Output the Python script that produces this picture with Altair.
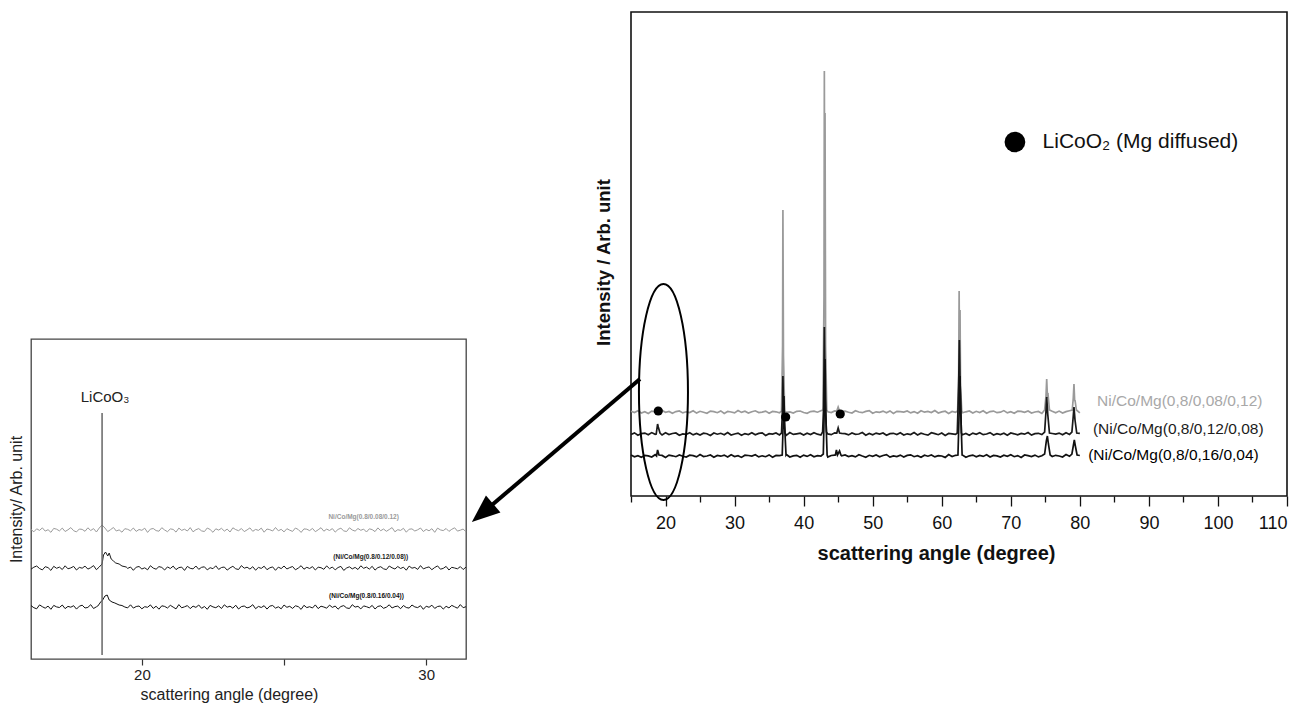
import altair as alt
import pandas as pd

FONT = "Liberation Sans"

# ---------------- main XRD pattern (right) ----------------
main_labels = ["Ni/Co/Mg(0,8/0,08/0,12)", "(Ni/Co/Mg(0,8/0,12/0,08)", "(Ni/Co/Mg(0,8/0,16/0,04)"]
main_colors = ["#a8a8a8", "#1c1c1c", "#000000"]
main_base = [84, 62, 40]
main_start = 15.0
main_step = 0.5

main_noise_gray = [0.8,-0.6,1.2,-1.0,0.3,-1.4,0.9,0.1,-0.8,1.5,-0.3,0.6,-1.2,0.4,1.0,-0.9,0.2,-0.5,1.3,-1.1,
 0.7,-0.2,-1.3,0.9,0.4,-0.7,1.1,-1.5,0.5,0.0,-0.9,1.4,-0.4,0.8,-1.0,0.3,1.2,-0.6,-0.1,0.9,
 -1.2,0.6,0.2,-0.8,1.5,-0.4,0.1,-1.1,0.7,1.0,-0.5,-1.3,0.4,0.9,-0.2,1.2,-0.9,0.3,-0.6,1.1,
 -1.4,0.5,0.8,-0.3,-1.0,1.3,0.0,-0.7,0.6,1.4,-1.2,0.2,-0.4,0.9,-0.8,1.1,-1.5,0.7,0.3,-0.1,
 1.0,-0.9,0.4,-1.3,1.2,-0.2,0.6,-0.6,1.5,-1.0,0.1,0.8,-1.4,0.5,-0.3,1.3,-0.8,0.2,1.0,-1.1,
 0.7,-0.5,1.2,-1.2,0.4,0.9,-0.7,-0.2,1.4,-0.9,0.3,-1.3,0.8,0.6,-0.4,1.1,-1.0,0.0,0.5,-1.5,
 1.2,-0.3,0.7,-0.8,0.9,-1.1,0.4,1.3,-0.6,0.2,-0.9]
main_noise_mid = [-0.5,1.1,-1.2,0.4,0.9,-0.8,1.4,-0.3,0.2,-1.0,1.2,-0.6,0.5,1.0,-1.3,0.1,-0.4,1.3,-0.9,0.6,
 -1.1,0.8,0.3,-1.4,1.0,-0.2,0.7,-0.7,1.5,-1.0,0.0,0.9,-1.2,0.4,-0.5,1.2,-0.8,0.6,1.1,-1.5,
 0.3,-0.1,1.0,-0.9,0.5,-1.3,1.4,-0.4,0.2,0.8,-1.1,0.7,-0.6,1.3,-0.2,-1.0,0.9,0.1,-0.7,1.2,
 -1.4,0.6,0.4,-0.9,1.1,-0.3,0.0,1.5,-1.2,0.5,-0.8,0.9,-0.1,1.0,-1.3,0.3,0.7,-0.5,1.2,-1.0,
 0.2,-0.6,1.4,-0.9,0.8,-0.2,-1.1,1.3,0.4,-0.7,1.0,-1.5,0.6,0.1,-0.4,1.1,-0.8,0.5,-1.2,0.9,
 -0.3,1.2,-0.7,0.0,1.4,-1.0,0.3,-0.5,0.8,-1.3,1.0,0.2,-0.9,0.6,-0.2,1.5,-1.1,0.4,0.7,-0.6,
 1.1,-1.4,0.5,-0.1,0.9,-0.8,1.3,-0.4,0.2,-1.0,0.6]
main_noise_bot = [1.0,-0.8,0.3,-1.2,0.7,0.1,-1.0,1.3,-0.4,0.6,-1.5,0.9,0.2,-0.7,1.1,-0.3,-1.1,0.8,0.4,-0.9,
 1.4,-0.5,0.0,1.0,-1.3,0.6,-0.2,0.9,-1.0,1.2,-0.6,0.3,-1.4,0.8,0.5,-0.1,1.3,-0.9,0.2,-0.7,
 1.1,-1.2,0.6,0.4,-0.5,1.5,-1.0,0.1,0.7,-1.3,0.9,-0.4,1.2,-0.8,0.3,-0.2,1.0,-1.1,0.5,0.8,
 -1.4,0.2,1.1,-0.6,0.4,-0.9,1.3,0.0,-1.2,0.7,-0.3,1.0,-0.8,0.5,1.4,-1.1,0.1,-0.5,0.9,-1.0,
 0.6,1.2,-0.7,0.3,-1.3,0.8,-0.2,1.1,-0.9,0.4,0.0,-1.4,1.5,-0.6,0.7,-0.1,1.0,-1.2,0.2,0.9,
 -0.8,0.5,-0.4,1.3,-1.0,0.6,0.1,-1.1,0.8,-0.3,1.2,-0.7,0.4,-1.5,1.0,0.3,-0.6,0.9,-0.9,0.2,
 -1.2,1.1,-0.5,0.7,0.0,-1.0,1.4,-0.3,0.6,-0.8,0.5]

main_peaks_gray = [
    [(18.7, 85), (18.9, 88), (19.1, 85)],
    [(36.8, 85), (36.95, 150), (37.0, 286), (37.08, 140), (37.25, 85)],
    [(42.8, 86), (42.95, 200), (43.0, 425), (43.05, 260), (43.1, 383), (43.18, 150), (43.35, 86)],
    [(44.8, 85), (45.0, 89), (45.2, 85)],
    [(62.3, 85), (62.45, 120), (62.52, 205), (62.58, 130), (62.65, 186), (62.72, 110), (62.9, 85)],
    [(74.9, 86), (75.1, 100), (75.2, 117), (75.3, 100), (75.4, 101), (75.6, 86)],
    [(78.9, 86), (79.05, 98), (79.15, 112), (79.25, 95), (79.3, 96), (79.5, 86)],
]
main_peaks_mid = [
    [(18.65, 62), (18.85, 72), (18.95, 69), (19.2, 63)],
    [(36.8, 63), (36.95, 90), (37.0, 120), (37.1, 85), (37.3, 63)],
    [(42.75, 64), (42.9, 90), (43.0, 169), (43.1, 100), (43.3, 64)],
    [(44.8, 63), (45.0, 68), (45.2, 63)],
    [(62.25, 63), (62.45, 110), (62.55, 156), (62.65, 115), (62.85, 63)],
    [(74.9, 64), (75.1, 85), (75.2, 99), (75.35, 82), (75.6, 63)],
    [(78.85, 64), (79.05, 80), (79.15, 89), (79.3, 76), (79.55, 63)],
]
main_peaks_bot = [
    [(18.7, 40), (18.85, 46), (19.05, 41)],
    [(36.9, 41), (37.05, 75), (37.15, 100), (37.25, 70), (37.45, 41)],
    [(42.85, 42), (43.0, 90), (43.1, 137), (43.2, 85), (43.4, 41)],
    [(44.6, 41), (44.75, 46), (44.9, 41), (45.2, 45), (45.4, 41)],
    [(62.35, 41), (62.55, 90), (62.65, 120), (62.75, 85), (62.95, 41)],
    [(74.9, 42), (75.15, 55), (75.3, 60), (75.45, 52), (75.7, 41)],
    [(78.85, 42), (79.1, 52), (79.2, 56), (79.35, 50), (79.6, 41)],
]
main_label_angle = [82.5, 81.9, 81.2]
main_label_value = [95, 67, 41]

marker_angle = [18.95, 37.4, 45.3]
marker_value = [85, 79, 82]

legend_dot_angle = [70.6]
legend_text_angle = [74.6]
legend_value = [354]
legend_text = ["LiCoO\u2082 (Mg diffused)"]

ellipse_angle = [19.7]
ellipse_value = [104]
arrow_angle = [16.3, -6.5]
arrow_value = [117, -17]
arrowhead_angle = [-6.5]
arrowhead_value = [-17]

main_ticks = [15, 20, 25, 30, 35, 40, 45, 50, 55, 60, 65, 70, 75, 80, 85, 90, 95, 100, 105, 110]

# ---------------- inset (left) ----------------
inset_labels = ["Ni/Co/Mg(0.8/0.08/0.12)", "(Ni/Co/Mg(0.8/0.12/0.08))", "(Ni/Co/Mg(0.8/0.16/0.04))"]
inset_colors = ["#9a9a9a", "#1a1a1a", "#111111"]
inset_base = [129, 91, 52]
inset_start = 16.1
inset_step = 0.1

inset_noise_gray = [0.5,-1.8,1.2,-0.4,2.1,-1.1,0.3,-2.3,1.6,0.8,-0.9,1.9,-1.5,0.2,2.4,-0.7,-1.9,1.0,0.6,-1.3,
 2.2,-0.5,1.4,-2.0,0.9,-0.2,1.7,-1.6,0.4,2.5,-1.0,0.1,-2.2,1.3,0.7,-0.8,2.0,-1.4,0.5,-0.3,
 1.8,-2.4,0.9,1.5,-0.6,-1.2,2.3,0.0,-1.7,1.1,0.6,-2.1,1.9,-0.4,0.8,-1.0,2.4,-1.8,0.3,1.4,
 -0.9,-1.5,2.0,0.5,-2.3,1.2,-0.1,1.7,-1.1,0.9,-2.0,2.2,0.4,-0.7,1.5,-1.6,0.1,2.1,-1.3,0.6,
 -0.4,1.9,-2.2,1.0,0.3,-1.0,2.5,-0.8,0.7,-1.9,1.3,-0.2,-1.4,2.0,0.5,-2.4,1.1,0.8,-0.6,1.6,
 -1.7,0.2,2.3,-1.2,0.9,-0.5,1.4,-2.1,0.6,1.8,-0.9,-1.5,2.2,0.0,-1.1,1.5,-0.3,0.9,-2.0,1.2,
 0.4,-1.6,2.1,-0.7,1.0,-1.3,0.5,2.4,-1.8,0.3,-0.4,1.7,-2.2,0.8,1.1,-1.0,0.2,2.0,-1.5,0.6,
 -0.8,1.3,-2.3,1.9,0.1,-0.6,1.5,-1.4,0.7,2.2,-1.1,-0.2,1.0,-1.9]
inset_noise_mid = [-1.2,0.8,2.0,-0.5,-1.9,1.3,0.4,-2.4,1.7,-0.3,0.9,-1.5,2.2,-0.8,0.1,1.6,-2.0,0.6,-0.2,1.9,
 -1.1,0.3,2.4,-1.7,0.7,-0.6,1.2,-2.2,0.5,1.8,-0.9,0.0,-1.4,2.1,-0.4,1.0,-2.3,0.8,1.5,-1.0,
 0.2,-1.8,2.3,-0.1,-1.2,1.4,0.6,-2.0,1.1,-0.5,1.9,-1.6,0.4,0.9,-2.4,1.6,-0.3,-0.9,2.0,-1.3,
 0.7,1.2,-1.9,0.3,-0.7,2.2,-1.4,0.5,1.0,-2.1,0.1,1.7,-0.8,-1.5,2.4,-0.2,0.8,-1.1,1.3,-2.2,
 0.6,-0.4,1.8,-1.7,0.2,1.1,-2.3,0.9,-0.6,2.0,-1.0,0.4,1.5,-1.8,-0.1,2.3,-1.2,0.7,-0.5,1.4,
 -2.0,0.8,0.3,-1.3,2.1,-0.7,1.0,-1.9,0.5,1.6,-2.4,0.0,1.2,-0.9,0.6,-1.5,2.2,-0.3,0.9,-1.1,
 1.7,-2.1,0.4,1.3,-0.8,-1.6,2.0,0.2,-1.0,1.5,-0.5,0.8,-2.2,1.9,-0.2,0.6,-1.4,2.4,-0.9,0.3,
 1.1,-1.7,0.5,2.1,-1.2,-0.4,1.6,-2.0,0.7,0.0,-0.8,1.4,-1.5,0.9]
inset_noise_bot = [1.4,-0.7,-1.8,2.1,0.3,-1.2,0.9,-2.3,1.6,0.1,-0.5,2.0,-1.6,0.6,-0.2,1.3,-2.1,0.8,1.8,-1.0,
 -0.4,2.3,-1.5,0.2,1.1,-2.0,0.7,-0.6,1.9,-1.3,0.4,-2.4,1.5,0.0,-0.9,2.2,-1.1,0.5,1.0,-1.8,
 0.3,-0.3,2.1,-1.4,0.8,-2.2,1.2,0.6,-1.0,1.7,-0.1,-1.9,2.4,-0.8,0.2,1.4,-1.6,0.9,-0.4,2.0,
 -1.3,0.5,-2.3,1.6,0.1,-0.7,1.1,-1.5,2.2,-0.2,0.8,-1.2,1.8,-2.0,0.4,1.0,-0.9,0.0,2.3,-1.7,
 0.6,-0.5,1.3,-2.1,0.9,1.5,-1.1,0.2,-1.8,2.0,-0.3,0.7,-1.4,1.2,0.4,-2.4,1.7,-0.6,0.3,-1.0,
 2.1,-1.6,0.8,0.0,-1.2,1.9,-0.4,1.0,-2.2,0.5,1.4,-0.9,-1.5,2.3,-0.1,0.7,-1.9,1.1,0.3,-0.8,
 1.6,-2.0,0.6,1.2,-1.3,-0.2,2.2,-1.0,0.4,0.9,-1.7,1.5,-0.5,-1.1,2.0,0.1,-0.6,1.3,-2.3,0.8,
 -0.3,1.8,-1.4,0.5,1.0,-2.1,0.7,-0.9,1.6,0.2,-1.2,2.4,-0.7,0.3]

inset_peaks_gray = [[(18.5, 131), (18.6, 134), (18.7, 131)]]
inset_peaks_mid = [[(18.5, 92), (18.6, 95), (18.65, 104), (18.72, 107), (18.8, 103), (18.85, 106),
                    (18.92, 100), (19.0, 98), (19.08, 96), (19.2, 95), (19.3, 93), (19.45, 92)]]
inset_peaks_bot = [[(18.45, 53), (18.55, 57), (18.62, 59), (18.7, 63), (18.78, 64), (18.85, 59),
                    (18.95, 57), (19.05, 56), (19.2, 54)]]
inset_label_angle = [27.8, 28.05, 27.9]
inset_label_value = [142, 102, 63]
licoo3_angle = [18.6]
licoo3_line_value = [4, 246]
licoo3_text_value = [262]
licoo3_text = ["LiCoO\u2083"]
inset_ticks = [20, 25, 30]


def build_series(start, step, base, noise, peaks, label):
    spans = [(min(p[0] for p in c) - 0.02, max(p[0] for p in c) + 0.02) for c in peaks]
    rows = []
    for i, n in enumerate(noise):
        a = round(start + step * i, 3)
        if not any(lo <= a <= hi for lo, hi in spans):
            rows.append((a, base + n))
    for c in peaks:
        rows.extend(c)
    rows.sort()
    return pd.DataFrame({"angle": [r[0] for r in rows], "value": [r[1] for r in rows], "series": label})


main_df = pd.concat([
    build_series(main_start, main_step, main_base[0], main_noise_gray, main_peaks_gray, main_labels[0]),
    build_series(main_start, main_step, main_base[1], main_noise_mid, main_peaks_mid, main_labels[1]),
    build_series(main_start, main_step, main_base[2], main_noise_bot, main_peaks_bot, main_labels[2]),
])
inset_df = pd.concat([
    build_series(inset_start, inset_step, inset_base[0], inset_noise_gray, inset_peaks_gray, inset_labels[0]),
    build_series(inset_start, inset_step, inset_base[1], inset_noise_mid, inset_peaks_mid, inset_labels[1]),
    build_series(inset_start, inset_step, inset_base[2], inset_noise_bot, inset_peaks_bot, inset_labels[2]),
])

# ---------------- main chart ----------------
mx = alt.X("angle:Q",
           scale=alt.Scale(domain=[15, 110], nice=False, zero=False),
           axis=alt.Axis(values=main_ticks, grid=False, domain=False,
                         tickSize={"condition": {"test": "datum.value % 10 === 0", "value": 10}, "value": 6},
                         tickColor="#111", tickWidth=1.3,
                         labelExpr="datum.value % 10 === 0 ? datum.label : ''",
                         labelFont=FONT, labelFontSize=18, labelColor="#111", labelPadding=8,
                         title="scattering angle (degree)", titleFont=FONT, titleFontSize=20,
                         titleFontWeight="bold", titleColor="#111",
                         titleX=305, titleY=57, titleAlign="center", titleBaseline="middle"))
my = alt.Y("value:Q",
           scale=alt.Scale(domain=[0, 484], nice=False, zero=False),
           axis=alt.Axis(labels=False, ticks=False, domain=False, grid=False,
                         title="Intensity / Arb. unit", titleFont=FONT, titleFontSize=18.5,
                         titleFontWeight="bold", titleColor="#111", titlePadding=18,
                         titleY=250))

main_lines = alt.Chart(main_df).mark_line(strokeWidth=1.7, clip=False).encode(
    x=mx, y=my,
    color=alt.Color("series:N", scale=alt.Scale(domain=main_labels, range=main_colors), legend=None),
    detail="series:N",
)
main_text_df = pd.DataFrame({"angle": main_label_angle, "value": main_label_value,
                             "text": main_labels, "col": main_colors})
main_text = alt.Chart(main_text_df).mark_text(align="left", baseline="middle", font=FONT, fontSize=15.5).encode(
    x=mx, y=my, text="text:N", color=alt.Color("col:N", scale=None))
markers = alt.Chart(pd.DataFrame({"angle": marker_angle, "value": marker_value})).mark_point(
    shape="circle", filled=True, size=85, color="#000", opacity=1).encode(x=mx, y=my)
legend_dot = alt.Chart(pd.DataFrame({"angle": legend_dot_angle, "value": legend_value})).mark_point(
    shape="circle", filled=True, size=430, color="#000", opacity=1).encode(x=mx, y=my)
legend_txt = alt.Chart(pd.DataFrame({"angle": legend_text_angle, "value": legend_value, "text": legend_text})).mark_text(
    align="left", baseline="middle", font=FONT, fontSize=21, color="#111").encode(x=mx, y=my, text="text:N")
ellipse = alt.Chart(pd.DataFrame({"angle": ellipse_angle, "value": ellipse_value})).mark_point(
    shape="M0,-1A0.227,1,0,1,0,0,1A0.227,1,0,1,0,0,-1Z", size=46656, filled=False,
    color="#000", strokeWidth=2, opacity=1, clip=False).encode(x=mx, y=my)
arrow_line = alt.Chart(pd.DataFrame({"angle": arrow_angle, "value": arrow_value})).mark_line(
    color="#000", strokeWidth=4, clip=False).encode(x=mx, y=my)
arrow_head = alt.Chart(pd.DataFrame({"angle": arrowhead_angle, "value": arrowhead_value})).mark_point(
    shape="M0,-1L0.8,1L-0.8,1Z", size=784, filled=True, color="#000", opacity=1,
    angle=229.6, clip=False).encode(x=mx, y=my)

main = alt.layer(main_lines, main_text, markers, legend_dot, legend_txt, ellipse, arrow_line, arrow_head).properties(
    width=656, height=484, view=alt.ViewBackground(stroke="#111", strokeWidth=1.6))

# ---------------- inset chart ----------------
ix = alt.X("angle:Q",
           scale=alt.Scale(domain=[16.1, 31.4], nice=False, zero=False),
           axis=alt.Axis(values=inset_ticks, grid=False, domain=False, tickSize=6,
                         tickColor="#333", tickWidth=1.2,
                         labelExpr="datum.value % 10 === 0 ? datum.label : ''",
                         labelFont=FONT, labelFontSize=15, labelColor="#222", labelPadding=2,
                         title="scattering angle (degree)", titleFont=FONT, titleFontSize=16,
                         titleFontWeight="normal", titleColor="#222",
                         titleX=198, titleY=35, titleAlign="center", titleBaseline="middle"))
iy = alt.Y("value:Q",
           scale=alt.Scale(domain=[0, 320], nice=False, zero=False),
           axis=alt.Axis(labels=False, ticks=False, domain=False, grid=False,
                         title="Intensity/ Arb. unit", titleFont=FONT, titleFontSize=16,
                         titleFontWeight="normal", titleColor="#222", titlePadding=7))

inset_lines = alt.Chart(inset_df).mark_line(strokeWidth=1.0).encode(
    x=ix, y=iy,
    color=alt.Color("series:N", scale=alt.Scale(domain=inset_labels, range=inset_colors), legend=None),
    detail="series:N",
)
inset_rule = alt.Chart(pd.DataFrame({"angle": licoo3_angle * 2, "value": licoo3_line_value})).mark_line(
    color="#666", strokeWidth=1.5).encode(x=ix, y=iy)
inset_lico = alt.Chart(pd.DataFrame({"angle": licoo3_angle, "value": licoo3_text_value, "text": licoo3_text})).mark_text(
    align="center", baseline="middle", font=FONT, fontSize=15, color="#222", dx=3).encode(x=ix, y=iy, text="text:N")
inset_text_df = pd.DataFrame({"angle": inset_label_angle, "value": inset_label_value,
                              "text": inset_labels, "col": inset_colors})
inset_text = alt.Chart(inset_text_df).mark_text(align="center", baseline="middle", font=FONT,
                                                fontSize=6.5, fontWeight="bold").encode(
    x=ix, y=iy, text="text:N", color=alt.Color("col:N", scale=None))

inset = alt.layer(inset_lines, inset_rule, inset_lico, inset_text).properties(
    width=435, height=320, view=alt.ViewBackground(stroke="#444", strokeWidth=1.3))

spacer = alt.Chart(pd.DataFrame({"s": [0]})).mark_point(opacity=0).encode(
    x=alt.value(0), y=alt.value(0)).properties(
    width=435, height=327, view=alt.ViewBackground(stroke="transparent"))

# with flush bounds the nested column counts as zero width, so spacing spans the inset too
left = alt.vconcat(spacer, inset, spacing=0, bounds="flush")
chart = alt.hconcat(left, main, spacing=600, bounds="flush").properties(
    padding={"left": 7, "top": 8, "right": 5, "bottom": 5},
    background="white",
)

chart.save("out.html", embed_options={"renderer": "svg", "actions": False})
